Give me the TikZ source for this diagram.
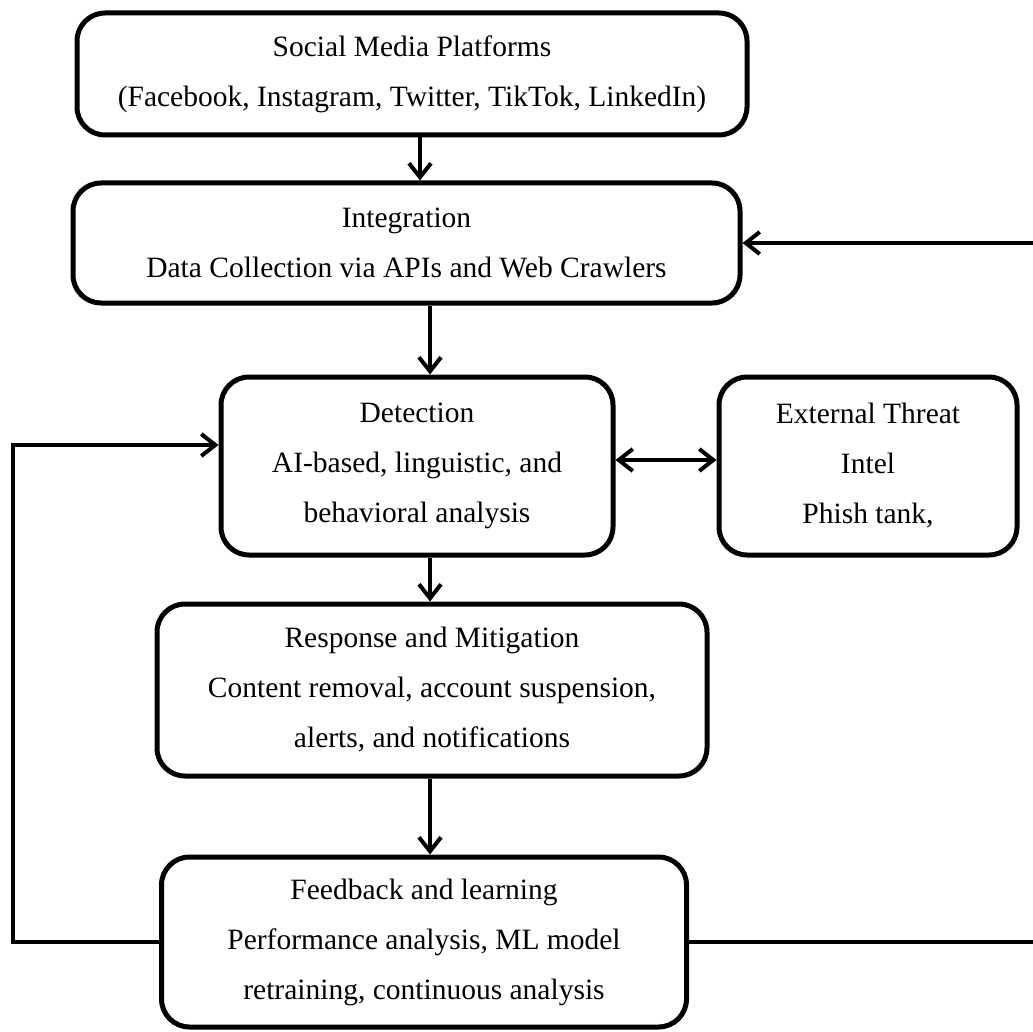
\documentclass[tikz,border=0pt]{standalone}
\usepackage{fontspec}
\setmainfont{Liberation Serif}
\usetikzlibrary{arrows.meta}

\begin{document}
\begin{tikzpicture}[x=1pt,y=-1pt,
  box/.style={draw=black, line width=5pt, rounded corners=28pt, align=center,
    inner sep=0pt, font=\fontsize{29.5}{50}\selectfont},
  link/.style={draw=black, line width=4pt},
  arr/.style={link, -{Straight Barb[length=14pt,width=22pt]}},
  darr/.style={link, {Straight Barb[length=14pt,width=22pt]}-{Straight Barb[length=14pt,width=22pt]}}
]
% page frame
\fill[white] (0,0) rectangle (1033,1032);
\useasboundingbox (0,0) rectangle (1033,1032);

% stages
\node[box, minimum width=670pt, minimum height=122pt] (social) at (412,74)
  {Social Media Platforms\\(Facebook, Instagram, Twitter, TikTok, LinkedIn)};
\node[box, minimum width=667pt, minimum height=120pt] (integ) at (406.5,243)
  {Integration\\Data Collection via APIs and Web Crawlers};
\node[box, minimum width=392pt, minimum height=178pt] (detect) at (417,466)
  {Detection\\AI-based, linguistic, and\\behavioral analysis};
\node[box, minimum width=298pt, minimum height=178pt] (ext) at (868,466)
  {External Threat\\Intel\\Phish tank,};
\node[box, minimum width=550pt, minimum height=172pt] (resp) at (432,690)
  {Response and Mitigation\\Content removal, account suspension,\\alerts, and notifications};
\node[box, minimum width=525pt, minimum height=170pt] (feed) at (424,942)
  {Feedback and learning\\Performance analysis, ML model\\retraining, continuous analysis};

% guide coordinates for the vertical links and the feedback loops
\coordinate (v1) at (420,0);
\coordinate (v2) at (430,0);
\coordinate (lx) at (13,0);
\coordinate (rx) at (1050,0);

% main flow
\draw[arr] (social.south -| v1) -- (integ.north -| v1);
\draw[arr] (integ.south -| v2) -- (detect.north -| v2);
\draw[arr] (detect.south -| v2) -- (resp.north -| v2);
\draw[arr] (resp.south -| v2) -- (feed.north -| v2);

% detection <-> external intel
\draw[darr] ([yshift=6pt]detect.east) -- ([yshift=6pt]ext.west);

% feedback loops
\draw[arr] (feed.west) -- (feed.west -| lx) -- ([yshift=21pt]detect.west -| lx) -- ([yshift=21pt]detect.west);
\draw[arr] (feed.east) -- (feed.east -| rx) -- (integ.east -| rx) -- (integ.east);
\end{tikzpicture}
\end{document}
